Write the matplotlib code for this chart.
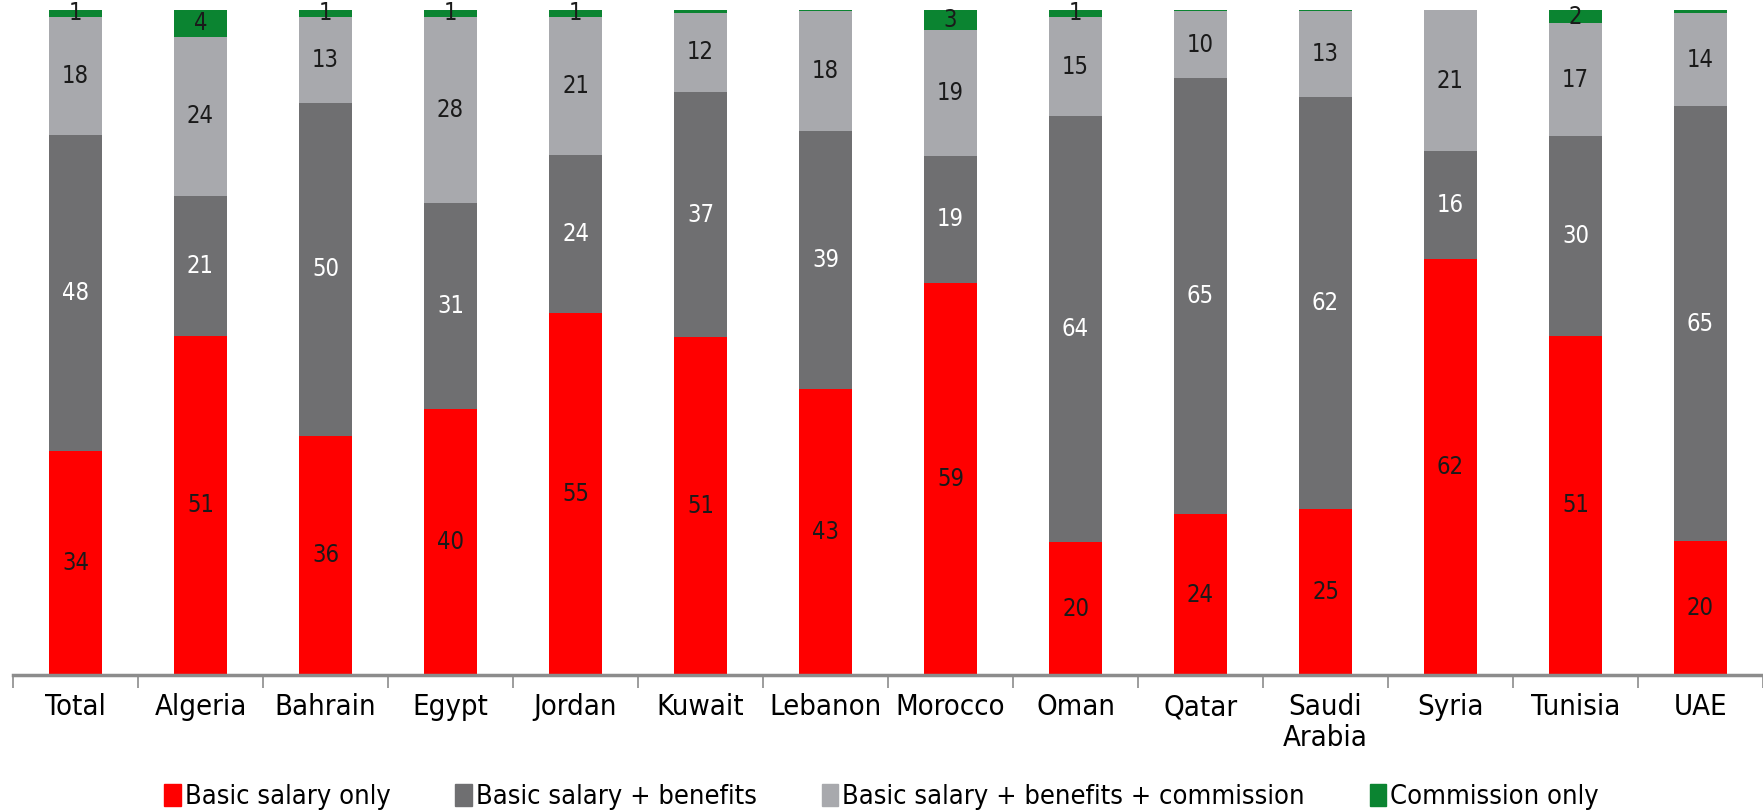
import numpy as np
import matplotlib
matplotlib.use("Agg")
import matplotlib.pyplot as plt
from matplotlib.patches import Patch

plt.rcParams["font.family"] = ["DejaVu Sans"]
plt.rcParams["font.stretch"] = "condensed"

paises = ["Total", "Algeria", "Bahrain", "Egypt", "Jordan", "Kuwait", "Lebanon",
          "Morocco", "Oman", "Qatar", "Saudi\nArabia", "Syria", "Tunisia", "UAE"]

basico = [34, 51, 36, 40, 55, 51, 43, 59, 20, 24, 25, 62, 51, 20]
beneficios = [48, 21, 50, 31, 24, 37, 39, 19, 64, 65, 62, 16, 30, 65]
comision_total = [18, 24, 13, 28, 21, 12, 18, 19, 15, 10, 13, 21, 17, 14]
solo_comision = [1, 4, 1, 1, 1, 0.4, 0.15, 3, 1, 0.15, 0.15, 0, 2, 0.4]

series = [
    ("Basic salary only", basico, "#ff0000", "#1a1a1a"),
    ("Basic salary + benefits", beneficios, "#6f6f71", "white"),
    ("Basic salary + benefits + commission", comision_total, "#a8a9ad", "#1a1a1a"),
    ("Commission only", solo_comision, "#0b8431", "#1a1a1a"),
]

# 100% apilado: cada barra se normaliza a su total
datos = np.array([s[1] for s in series], dtype=float)
totales = datos.sum(axis=0)
pct = datos / totales * 100

fig = plt.figure(figsize=(17.63, 8.11), dpi=100)
ax = fig.add_axes([13 / 1763, 136 / 811, 1750 / 1763, 665 / 811])

x = np.arange(len(paises))
base = np.zeros(len(paises))
for (nombre, vals, color, txt), alto in zip(series, pct):
    ax.bar(x, alto, 0.42, bottom=base, color=color, label=nombre)
    for i, v in enumerate(vals):
        if v >= 1:
            ax.text(x[i], base[i] + alto[i] / 2, f"{v:g}", ha="center", va="center",
                    fontsize=17, color=txt)
    base += alto

ax.set_xlim(-0.5, len(paises) - 0.5)
ax.set_ylim(0, 100)
ax.set_yticks([])
for lado in ["left", "right", "top"]:
    ax.spines[lado].set_visible(False)
ax.spines["bottom"].set_color("#8c8c8c")
ax.spines["bottom"].set_linewidth(2.5)

ax.set_xticks(np.arange(-0.5, len(paises), 1))
ax.set_xticklabels([])
ax.tick_params(axis="x", which="major", length=9, width=1.2, color="#8c8c8c")
ax.set_xticks(x, minor=True)
ax.set_xticklabels(paises, minor=True, fontsize=21)
ax.tick_params(axis="x", which="minor", length=0, pad=13)
for t in ax.get_xticklabels(minor=True):
    t.set_linespacing(1.15)

manijas = [Patch(color=s[2]) for s in series]
fig.legend(manijas, [s[0] for s in series], loc="center", bbox_to_anchor=(0.5, 1 - 797 / 811),
           ncol=4, frameon=False, fontsize=19.5, handlelength=0.6, handleheight=0.9,
           handletextpad=0.15, columnspacing=2.4)

fig.savefig("out.png", dpi=100)
